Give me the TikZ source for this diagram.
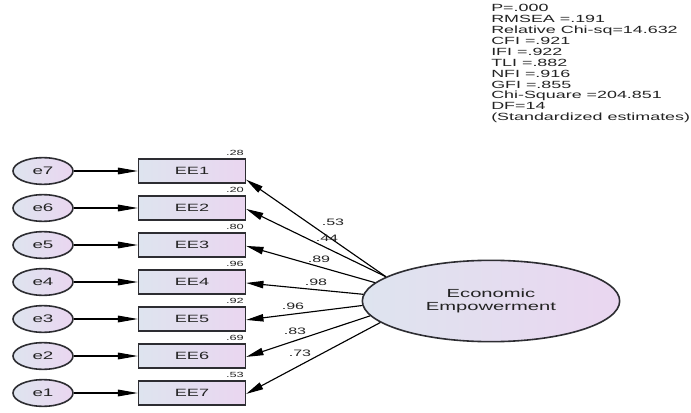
\documentclass[tikz,border=0pt]{standalone}
\usepackage{fontspec}
\setmainfont{Liberation Sans}
% wide Arial-like face used throughout the path diagram
\newfontfamily\amos[FakeStretch=1.72]{Liberation Sans}
\usetikzlibrary{shapes.geometric,arrows.meta,calc}
\definecolor{fillL}{RGB}{222,228,239}
\definecolor{fillR}{RGB}{234,214,240}
\definecolor{edge}{RGB}{45,45,50}
\definecolor{ink}{RGB}{35,35,35}
\begin{document}
\begin{tikzpicture}[x=0.75pt,y=-0.75pt,
  every node/.style={text=ink},
  errvar/.style={ellipse, draw=edge, line width=1.2pt, left color=fillL, right color=fillR,
    minimum width=45pt, minimum height=20pt, inner sep=0pt, font=\amos\fontsize{8.2}{9}\selectfont},
  obsbox/.style={rectangle, draw=edge, line width=1.2pt, left color=fillL, right color=fillR,
    minimum width=80pt, minimum height=18pt, inner sep=0pt, font=\amos\fontsize{7.9}{9}\selectfont},
  latent/.style={ellipse, draw=edge, line width=1.2pt, left color=fillL, right color=fillR,
    minimum width=193pt, minimum height=61pt, inner sep=0pt, align=center,
    font=\amos\fontsize{8.8}{9.8}\selectfont},
  rsq/.style={font=\amos\fontsize{5.6}{6}\selectfont, inner sep=0pt, anchor=south east},
  coef/.style={font=\amos\fontsize{7}{7}\selectfont, inner sep=0pt},
  stats/.style={font=\amos\fontsize{7.8}{8.2}\selectfont, align=left, inner sep=0pt},
  errarrow/.style={draw=black, line width=0.85pt, -{Triangle[length=15pt,width=5pt]}},
  loadarrow/.style={draw=black, line width=0.85pt, -{Triangle[length=13pt,width=5.5pt]}}
]
\useasboundingbox[fill=white] (0,0) rectangle (691,413);

% fit statistics
\node[stats, anchor=north west] (fit) at (491,4) {P=.000\\RMSEA =.191\\Relative Chi-sq=14.632\\CFI =.921\\IFI =.922\\TLI =.882\\NFI =.916\\GFI =.855\\Chi-Square =204.851\\DF=14\\(Standardized estimates)};

% latent factor
\node[latent] (F) at (491,301) {Economic\\Empowerment};

% indicators, their error terms and squared multiple correlations
\foreach \i/\r in {1/.28,2/.20,3/.80,4/.96,5/.92,6/.69,7/.53}{
  \pgfmathtruncatemacro{\j}{8-\i}
  \pgfmathsetmacro{\yy}{171+37*(\i-1)}
  \node[errvar] (e\j) at (43,\yy) {e\j};
  \node[obsbox] (EE\i) at (192,\yy) {EE\i};
  \node[rsq] (r\i) at ($(EE\i.north east)+(-1.5pt,2pt)$) {\r};
  \draw[errarrow] (e\j) -- (EE\i);
}

% standardized loadings
\draw[loadarrow] (F.167.4) -- ([yshift=-6.5pt]EE1.east);
\foreach \i/\a in {2/167.6,3/171.2,4/177.6,5/182.9,6/187.7,7/191.0}{
  \draw[loadarrow] (F.\a) -- ([yshift=-0.7pt]EE\i.east);
}
\node[coef] (c1) at (333,222) {.53};
\node[coef] (c2) at (327,238) {.44};
\node[coef] (c3) at (319,259) {.89};
\node[coef] (c4) at (316,282) {.98};
\node[coef] (c5) at (293,306) {.96};
\node[coef] (c6) at (295,331) {.83};
\node[coef] (c7) at (300,353) {.73};
\end{tikzpicture}
\end{document}
